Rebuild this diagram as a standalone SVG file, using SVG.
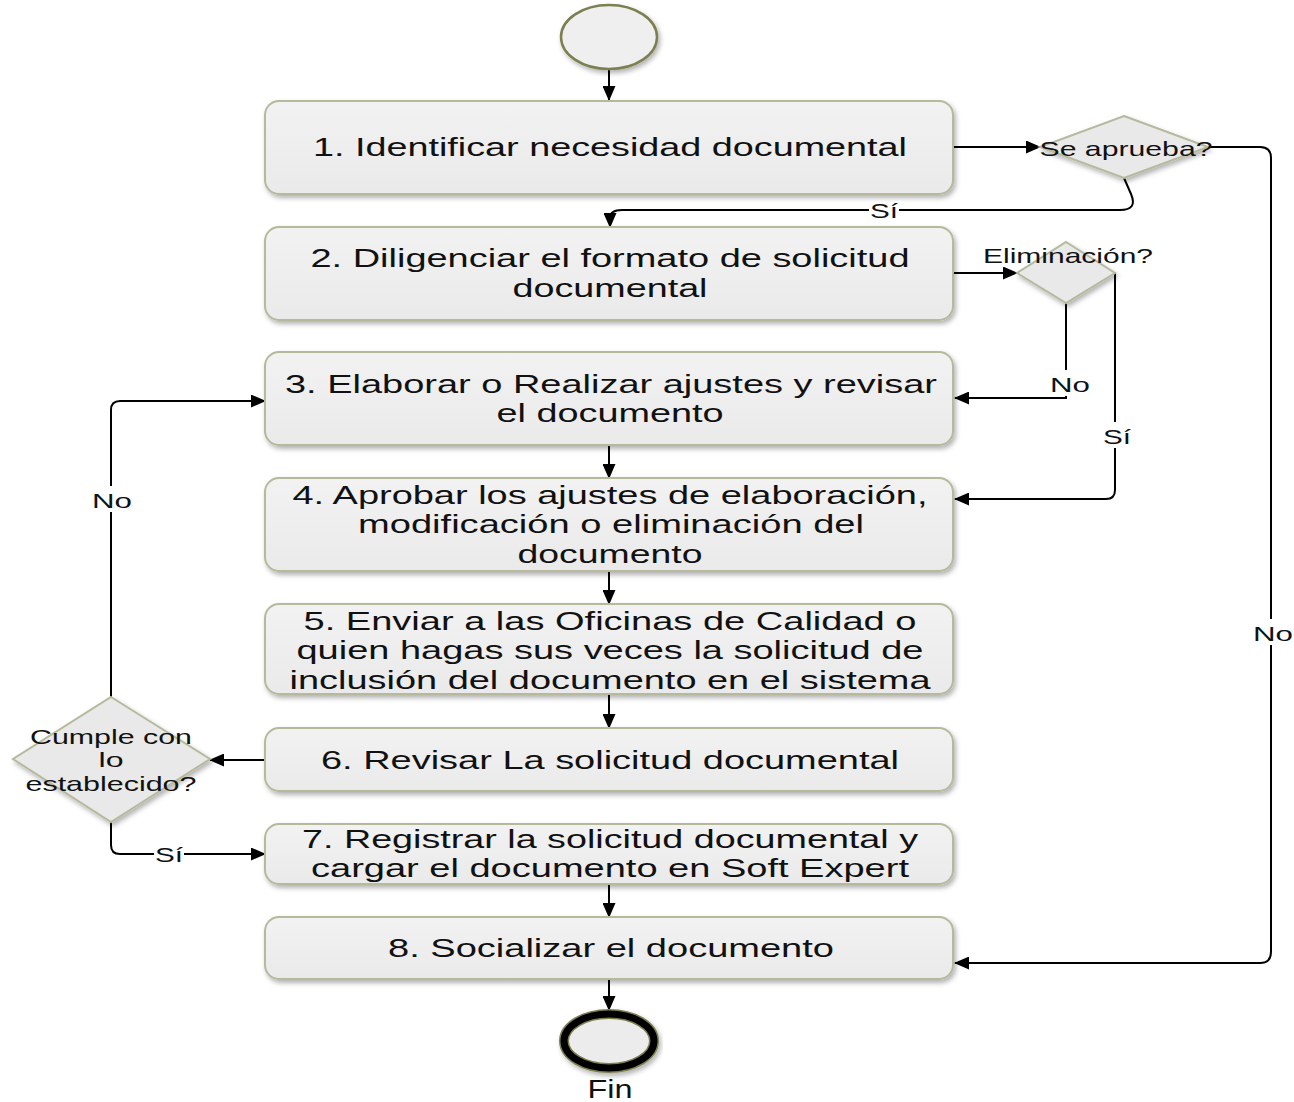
<svg xmlns="http://www.w3.org/2000/svg" width="1294" height="1102" viewBox="0 0 1294 1102">
<style>
.box{fill:url(#g);stroke:#b6b99c;stroke-width:2;filter:url(#sh)}
.dia{fill:#e9e9e9;stroke:#b6b99c;stroke-width:2;filter:url(#sh)}
.t{font-family:"Liberation Sans",Arial,sans-serif;font-size:26px;fill:#111;text-anchor:middle}
.l{font-family:"Liberation Sans",Arial,sans-serif;font-size:21px;fill:#111;text-anchor:middle}
.c{fill:none;stroke:#000;stroke-width:2}
.a{marker-end:url(#ah)}
.bg{fill:#fff}
</style>
<defs>
<linearGradient id="g" x1="0" y1="0" x2="0" y2="1">
<stop offset="0" stop-color="#f2f2f2"/>
<stop offset="1" stop-color="#eaeaea"/>
</linearGradient>
<filter id="sh" x="-10%" y="-20%" width="120%" height="150%">
<feDropShadow dx="2" dy="3" stdDeviation="2.5" flood-color="#000" flood-opacity="0.3"/>
</filter>
<marker id="ah" markerUnits="userSpaceOnUse" markerWidth="15" markerHeight="13" refX="14" refY="6.5" orient="auto">
<path d="M0 0 L15 6.5 L0 13 z" fill="#000"/>
</marker>
</defs>

<g id="connectors">
<path class="c a" d="M609 69 V100"/>
<path class="c a" d="M953 147 H1040"/>
<path class="c a" d="M1124 178 L1131 194 Q1138 210 1120 210 L622 210 Q610 210 610 218 V227"/>
<path class="c a" d="M1208 147 H1260 Q1271 147 1271 158 V952 Q1271 963 1260 963 H955"/>
<path class="c a" d="M953 273 H1017"/>
<path class="c a" d="M1066 303 V398 H955"/>
<path class="c a" d="M1115 273 V490 Q1115 499 1106 499 H955"/>
<path class="c a" d="M609 445 V478"/>
<path class="c a" d="M609 571 V604"/>
<path class="c a" d="M609 694 V728"/>
<path class="c a" d="M265 760 H210"/>
<path class="c a" d="M111 697 V410 Q111 401 120 401 H265"/>
<path class="c a" d="M111 822 V845 Q111 854 120 854 H265"/>
<path class="c a" d="M609 884 V917"/>
<path class="c a" d="M609 979 V1010"/>
<rect class="bg" x="869" y="199" width="30" height="22"/>
<text class="l" x="884" y="218" textLength="28" lengthAdjust="spacingAndGlyphs">Sí</text>
<rect class="bg" x="1050" y="370" width="40" height="26"/>
<text class="l" x="1070" y="392" textLength="40" lengthAdjust="spacingAndGlyphs">No</text>
<rect class="bg" x="1102" y="422" width="30" height="26"/>
<text class="l" x="1117" y="444" textLength="28" lengthAdjust="spacingAndGlyphs">Sí</text>
<rect class="bg" x="92" y="486" width="40" height="26"/>
<text class="l" x="112" y="508" textLength="40" lengthAdjust="spacingAndGlyphs">No</text>
<rect class="bg" x="1253" y="619" width="40" height="26"/>
<text class="l" x="1273" y="641" textLength="40" lengthAdjust="spacingAndGlyphs">No</text>
<rect class="bg" x="154" y="843" width="30" height="24"/>
<text class="l" x="169" y="862" textLength="28" lengthAdjust="spacingAndGlyphs">Sí</text>
</g>

<g id="start">
<ellipse cx="609" cy="37" rx="48" ry="32" fill="#efefef" stroke="#7c8050" stroke-width="2.5" filter="url(#sh)"/>
</g>

<g id="n1">
<rect class="box" x="265" y="101" width="688" height="93" rx="14"/>
<text class="t" x="610" y="156" textLength="594" lengthAdjust="spacingAndGlyphs">1. Identificar necesidad documental</text>
</g>
<g id="n2">
<rect class="box" x="265" y="227" width="688" height="93" rx="14"/>
<text class="t" x="610" y="267" textLength="599" lengthAdjust="spacingAndGlyphs">2. Diligenciar el formato de solicitud</text>
<text class="t" x="610" y="297" textLength="195" lengthAdjust="spacingAndGlyphs">documental</text>
</g>
<g id="n3">
<rect class="box" x="265" y="352" width="688" height="93" rx="14"/>
<text class="t" x="611" y="393" textLength="652" lengthAdjust="spacingAndGlyphs">3. Elaborar o Realizar ajustes y revisar</text>
<text class="t" x="610" y="422" textLength="227" lengthAdjust="spacingAndGlyphs">el documento</text>
</g>
<g id="n4">
<rect class="box" x="265" y="478" width="688" height="93" rx="14"/>
<text class="t" x="610" y="504" textLength="635" lengthAdjust="spacingAndGlyphs">4. Aprobar los ajustes de elaboración,</text>
<text class="t" x="611" y="533" textLength="506" lengthAdjust="spacingAndGlyphs">modificación o eliminación del</text>
<text class="t" x="610" y="563" textLength="185" lengthAdjust="spacingAndGlyphs">documento</text>
</g>
<g id="n5">
<rect class="box" x="265" y="604" width="688" height="90" rx="14"/>
<text class="t" x="610" y="630" textLength="613" lengthAdjust="spacingAndGlyphs">5. Enviar a las Oficinas de Calidad o</text>
<text class="t" x="610" y="659" textLength="627" lengthAdjust="spacingAndGlyphs">quien hagas sus veces la solicitud de</text>
<text class="t" x="610" y="689" textLength="641" lengthAdjust="spacingAndGlyphs">inclusión del documento en el sistema</text>
</g>
<g id="n6">
<rect class="box" x="265" y="728" width="688" height="63" rx="14"/>
<text class="t" x="610" y="769" textLength="578" lengthAdjust="spacingAndGlyphs">6. Revisar La solicitud documental</text>
</g>
<g id="n7">
<rect class="box" x="265" y="824" width="688" height="60" rx="14"/>
<text class="t" x="610" y="848" textLength="616" lengthAdjust="spacingAndGlyphs">7. Registrar la solicitud documental y</text>
<text class="t" x="610" y="877" textLength="598" lengthAdjust="spacingAndGlyphs">cargar el documento en Soft Expert</text>
</g>
<g id="n8">
<rect class="box" x="265" y="917" width="688" height="62" rx="14"/>
<text class="t" x="611" y="957" textLength="446" lengthAdjust="spacingAndGlyphs">8. Socializar el documento</text>
</g>

<g id="d1">
<polygon class="dia" points="1124,116 1208,147 1124,178 1040,147"/>
<text class="l" x="1126" y="156" textLength="173" lengthAdjust="spacingAndGlyphs">Se aprueba?</text>
</g>
<g id="d2">
<polygon class="dia" points="1066,242 1115,273 1066,303 1017,273"/>
<text class="l" x="1068" y="263" textLength="170" lengthAdjust="spacingAndGlyphs">Eliminación?</text>
</g>
<g id="d3">
<polygon class="dia" points="111,697 210,759 111,822 13,759"/>
<text class="l" x="111" y="744" textLength="162" lengthAdjust="spacingAndGlyphs">Cumple con</text>
<text class="l" x="111" y="767" textLength="25" lengthAdjust="spacingAndGlyphs">lo</text>
<text class="l" x="111" y="791" textLength="171" lengthAdjust="spacingAndGlyphs">establecido?</text>
</g>

<g id="end">
<ellipse cx="609" cy="1041" rx="45" ry="27" fill="#ececec" stroke="#7c8050" stroke-width="10" filter="url(#sh)"/>
<ellipse cx="609" cy="1041" rx="45" ry="27" fill="none" stroke="#000" stroke-width="7"/>
<text class="t" x="610" y="1098" font-size="22" textLength="45" lengthAdjust="spacingAndGlyphs">Fin</text>
</g>
</svg>
